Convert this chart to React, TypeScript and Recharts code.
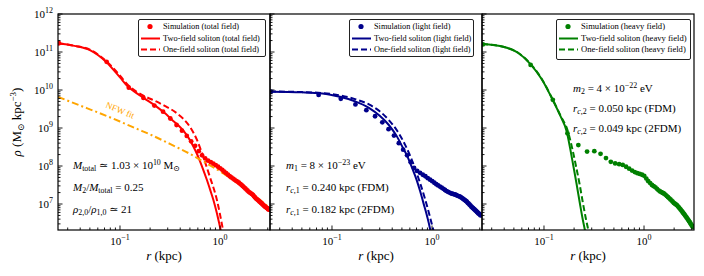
import React from "react";
import { ComposedChart, Line, Scatter, XAxis, YAxis } from "recharts";

const SERIF = '"Liberation Serif", "DejaVu Serif", serif';

// radial bins of the simulation (kpc)
const simRadius = [
  0.0245, 0.0735, 0.1225, 0.1715, 0.2205, 0.2695, 0.3185, 0.3675, 0.4165, 0.4655,
  0.5145, 0.5635, 0.6125, 0.6615, 0.7105, 0.7595, 0.8085, 0.8575, 0.9065, 0.9555,
  1.0045, 1.0535, 1.1025, 1.1515, 1.2005, 1.2495, 1.2985, 1.3475, 1.3965, 1.4455,
  1.4945, 1.5435, 1.5925, 1.6415, 1.6905, 1.7395, 1.7885, 1.8375, 1.8865, 1.9355,
  1.9845, 2.0335, 2.0825, 2.1315, 2.1805, 2.2295, 2.2785, 2.3275, 2.3765, 2.4255,
  2.4745, 2.5235, 2.5725, 2.6215, 2.6705, 2.7195, 2.7685, 2.8175, 2.8665, 2.9155,
  2.9645, 3.0135, 3.0625,
];

const simTotal = [
  1.7e11, 5.5e10, 1.15e10, 6.17e9, 3.89e9, 2.69e9, 1.78e9, 1.2e9, 8.51e8, 6.17e8,
  4.47e8, 3.39e8, 2.45e8, 1.91e8, 1.58e8, 1.38e8, 1.26e8, 1.15e8, 1.05e8, 9.55e7,
  8.71e7, 7.94e7, 7.08e7, 6.46e7, 5.89e7, 5.37e7, 5.01e7, 4.68e7, 4.37e7, 4.07e7,
  3.89e7, 3.63e7, 3.39e7, 3.16e7, 2.95e7, 2.75e7, 2.57e7, 2.4e7, 2.24e7, 2.09e7,
  2.0e7, 1.91e7, 1.82e7, 1.74e7, 1.62e7, 1.51e7, 1.41e7, 1.35e7, 1.29e7, 1.23e7,
  1.17e7, 1.12e7, 1.07e7, 1.02e7, 9.77e6, 9.33e6, 8.91e6, 8.51e6, 8.32e6, 7.94e6,
  7.76e6, 7.41e6, 7.08e6,
];

const simLight = [
  9.02e9, 7.41e9, 5.89e9, 4.17e9, 2.95e9, 2.04e9, 1.41e9, 9.33e8, 6.31e8, 3.98e8,
  2.69e8, 1.91e8, 1.26e8, 8.91e7, 7.41e7, 6.61e7, 5.89e7, 5.37e7, 4.79e7, 4.37e7,
  3.98e7, 3.63e7, 3.31e7, 3.09e7, 2.88e7, 2.69e7, 2.51e7, 2.34e7, 2.19e7, 2.09e7,
  2.0e7, 1.91e7, 1.86e7, 1.82e7, 1.78e7, 1.74e7, 1.66e7, 1.62e7, 1.58e7, 1.51e7,
  1.45e7, 1.38e7, 1.32e7, 1.26e7, 1.2e7, 1.15e7, 1.07e7, 1.02e7, 9.55e6, 9.12e6,
  8.51e6, 8.13e6, 7.76e6, 7.41e6, 7.08e6, 6.76e6, 6.46e6, 6.17e6, 5.89e6, 5.62e6,
  5.5e6, 5.25e6, 5.01e6,
];

const simHeavy = [
  1.58e11, 4.57e10, 5.5e9, 7.24e8, 3.55e8, 2.4e8, 2.45e8, 2.09e8, 1.62e8, 1.29e8,
  1.17e8, 1.12e8, 1.07e8, 9.55e7, 8.51e7, 7.59e7, 6.92e7, 6.46e7, 6.17e7, 5.89e7,
  5.5e7, 4.68e7, 3.98e7, 3.55e7, 3.16e7, 2.95e7, 2.75e7, 2.51e7, 2.29e7, 2.14e7,
  2.04e7, 1.95e7, 1.86e7, 1.74e7, 1.62e7, 1.51e7, 1.41e7, 1.32e7, 1.23e7, 1.15e7,
  1.07e7, 1.02e7, 9.77e6, 9.33e6, 8.71e6, 8.13e6, 7.59e6, 7.08e6, 6.61e6, 6.17e6,
  5.75e6, 5.37e6, 5.01e6, 4.68e6, 4.37e6, 4.07e6, 3.8e6, 3.55e6, 3.31e6, 3.09e6,
  2.88e6, 2.69e6, 2.51e6,
];

// soliton fits, total field
const twoTotalR = [0.024, 0.035, 0.05, 0.072, 0.1, 0.12, 0.15, 0.175, 0.23, 0.29, 0.33, 0.38, 0.43, 0.49, 0.54, 0.59, 0.63, 0.68, 0.74, 0.8, 0.86, 0.92, 0.98, 1.03];
const twoTotalRho = [1.7e11, 1.45e11, 1.12e11, 5.62e10, 2.14e10, 1.23e10, 7.94e9, 6.03e9, 3.72e9, 2.29e9, 1.66e9, 1.2e9, 8.51e8, 5.25e8, 3.31e8, 2.04e8, 1.35e8, 7.94e7, 4.27e7, 2.29e7, 1.26e7, 6.46e6, 3.16e6, 1.74e6];
const oneTotalR = [0.024, 0.035, 0.05, 0.072, 0.1, 0.12, 0.15, 0.175, 0.23, 0.29, 0.33, 0.37, 0.43, 0.5, 0.59, 0.68, 0.79, 0.93, 1.07, 1.1];
const oneTotalRho = [1.7e11, 1.45e11, 1.15e11, 5.89e10, 2.4e10, 1.35e10, 8.71e9, 6.92e9, 5.01e9, 3.63e9, 3.02e9, 2.45e9, 1.74e9, 1.07e9, 4.79e8, 1.74e8, 5.25e7, 1.29e7, 2.09e6, 1.41e6];
const nfwR = [0.024, 0.04, 0.06, 0.1, 0.15, 0.2, 0.3, 0.4, 0.5, 0.7, 1.0, 1.5, 2.0, 2.5, 3.16];
const nfwRho = [6.61e9, 3.89e9, 2.57e9, 1.48e9, 9.33e8, 6.76e8, 4.07e8, 2.82e8, 2.09e8, 1.26e8, 7.24e7, 3.55e7, 2.04e7, 1.29e7, 7.76e6];

// light field
const twoLightR = [0.024, 0.05, 0.08, 0.12, 0.17, 0.234, 0.3, 0.37, 0.44, 0.5, 0.57, 0.63, 0.7, 0.76, 0.82, 0.885, 0.93, 0.96, 1.0];
const twoLightRho = [9.02e9, 8.71e9, 8.13e9, 6.61e9, 5.01e9, 3.39e9, 2.09e9, 1.2e9, 6.31e8, 3.39e8, 1.74e8, 9.12e7, 4.37e7, 2.19e7, 1.07e7, 5.25e6, 3.09e6, 2.09e6, 1.32e6];
const oneLightR = [0.024, 0.05, 0.08, 0.12, 0.17, 0.234, 0.3, 0.37, 0.45, 0.54, 0.61, 0.68, 0.76, 0.85, 0.93, 1.0, 1.03, 1.07];
const oneLightRho = [9.12e9, 8.81e9, 8.32e9, 7.24e9, 5.75e9, 4.17e9, 2.75e9, 1.62e9, 8.32e8, 3.55e8, 1.74e8, 8.32e7, 3.55e7, 1.38e7, 5.89e6, 2.82e6, 2.09e6, 1.38e6];

// heavy field
const twoHeavyR = [0.024, 0.04, 0.055, 0.072, 0.095, 0.119, 0.145, 0.169, 0.183, 0.196, 0.212, 0.229, 0.243, 0.257, 0.27];
const twoHeavyRho = [1.62e11, 1.35e11, 9.55e10, 5.01e10, 1.91e10, 6.31e9, 2.14e9, 7.94e8, 2.82e8, 1.05e8, 3.31e7, 1.0e7, 4.17e6, 2.0e6, 1.0e6];
const oneHeavyR = [0.024, 0.04, 0.055, 0.072, 0.095, 0.119, 0.146, 0.174, 0.192, 0.208, 0.227, 0.246, 0.262, 0.278, 0.292];
const oneHeavyRho = [1.62e11, 1.35e11, 9.55e10, 5.13e10, 1.95e10, 6.46e9, 2.14e9, 7.94e8, 2.82e8, 1.05e8, 3.31e7, 1.0e7, 4.17e6, 2.0e6, 1.0e6];

const xTicks = [0.03, 0.04, 0.05, 0.06, 0.07, 0.08, 0.09, 0.1, 0.2, 0.3, 0.4, 0.5, 0.6, 0.7, 0.8, 0.9, 1, 2, 3];
const yTicks = [
  3e6, 4e6, 5e6, 6e6, 7e6, 8e6, 9e6,
  1e7, 2e7, 3e7, 4e7, 5e7, 6e7, 7e7, 8e7, 9e7,
  1e8, 2e8, 3e8, 4e8, 5e8, 6e8, 7e8, 8e8, 9e8,
  1e9, 2e9, 3e9, 4e9, 5e9, 6e9, 7e9, 8e9, 9e9,
  1e10, 2e10, 3e10, 4e10, 5e10, 6e10, 7e10, 8e10, 9e10,
  1e11, 2e11, 3e11, 4e11, 5e11, 6e11, 7e11, 8e11, 9e11,
  1e12,
];

const X_DOMAIN = [0.024, 3.16];
const Y_DOMAIN = [2.07e6, 1e12];

const RED = "#ff0000";
const BLUE = "#00008b";
const GREEN = "#008000";
const ORANGE = "#ffa500";

const pts = (r: number[], rho: number[]) => r.map((v, i) => ({ r: v, rho: rho[i] }));

const isMajor = (v: number) => Math.abs(Math.log10(v) - Math.round(Math.log10(v))) < 1e-9;
const expLabel = (v: number) => {
  const e = Math.round(Math.log10(v));
  return e < 0 ? `\u2212${-e}` : `${e}`;
};

function XTick(props: any) {
  const { x, y, payload } = props;
  const major = isMajor(payload.value);
  return (
    <g>
      <line x1={x} x2={x} y1={y} y2={y - (major ? 4.5 : 2.5)} stroke="#000" strokeWidth={0.9} />
      {major && (
        <text x={x} y={y + 15} textAnchor="middle" fontSize={11} fontFamily={SERIF} fill="#000">
          10<tspan dy={-5} fontSize={8}>{expLabel(payload.value)}</tspan>
        </text>
      )}
    </g>
  );
}

function YTick(props: any) {
  const { x, y, payload, showLabel } = props;
  const major = isMajor(payload.value);
  return (
    <g>
      <line x1={x} x2={x + (major ? 4.5 : 2.5)} y1={y} y2={y} stroke="#000" strokeWidth={0.9} />
      {major && showLabel && (
        <text x={x - 5} y={y + 4} textAnchor="end" fontSize={11} fontFamily={SERIF} fill="#000">
          10<tspan dy={-5} fontSize={8}>{expLabel(payload.value)}</tspan>
        </text>
      )}
    </g>
  );
}

interface PanelProps {
  left: number;
  color: string;
  sim: number[];
  two: { r: number; rho: number }[];
  one: { r: number; rho: number }[];
  showYLabels?: boolean;
  nfw?: { r: number; rho: number }[];
}

function Panel({ left, color, sim, two, one, showYLabels, nfw }: PanelProps) {
  return (
    <div style={{ position: "absolute", left: left - 58, top: 0 }}>
      <ComposedChart width={270} height={276} margin={{ top: 14, right: 0, bottom: 0, left: 0 }}>
        <XAxis
          dataKey="r"
          type="number"
          scale="log"
          domain={X_DOMAIN}
          allowDataOverflow
          ticks={xTicks}
          interval={0}
          tickSize={0}
          tickMargin={0}
          axisLine={false}
          tickLine={false}
          height={46}
          tick={(p: any) => <XTick {...p} />}
        />
        <YAxis
          dataKey="rho"
          type="number"
          scale="log"
          domain={Y_DOMAIN}
          allowDataOverflow
          ticks={yTicks}
          interval={0}
          tickSize={0}
          tickMargin={0}
          axisLine={false}
          tickLine={false}
          width={58}
          tick={(p: any) => <YTick {...p} showLabel={showYLabels} />}
        />
        <Scatter
          data={pts(simRadius, sim)}
          isAnimationActive={false}
          shape={(p: any) => <circle cx={p.cx} cy={p.cy} r={2.4} fill={color} />}
        />
        <Line data={two} dataKey="rho" type="monotone" stroke={color} strokeWidth={2} dot={false} activeDot={false} isAnimationActive={false} />
        <Line data={one} dataKey="rho" type="monotone" stroke={color} strokeWidth={2} strokeDasharray="6 3" dot={false} activeDot={false} isAnimationActive={false} />
        {nfw && (
          <Line data={nfw} dataKey="rho" type="monotone" stroke={ORANGE} strokeWidth={2} strokeDasharray="7 3 2 3" dot={false} activeDot={false} isAnimationActive={false} />
        )}
      </ComposedChart>
    </div>
  );
}

function LegendBox({ left, top, width, height, color, field, fontSize }: any) {
  const rows = [
    { kind: "dot", text: `Simulation (${field})` },
    { kind: "solid", text: `Two-field soliton (${field})` },
    { kind: "dash", text: `One-field soliton (${field})` },
  ];
  return (
    <div
      style={{
        position: "absolute",
        left,
        top,
        width,
        height,
        boxSizing: "border-box",
        border: "1px solid #222",
        borderRadius: 2,
        background: "#fff",
        paddingTop: 1,
        fontFamily: SERIF,
        fontSize,
        whiteSpace: "nowrap",
      }}
    >
      {rows.map((row) => (
        <div key={row.kind} style={{ height: 11.5, lineHeight: "11.5px", display: "flex", alignItems: "center" }}>
          <svg width={24} height={11} style={{ flex: "none" }}>
            {row.kind === "dot" && <circle cx={11} cy={5.5} r={2.6} fill={color} />}
            {row.kind === "solid" && <line x1={2} x2={21} y1={5.5} y2={5.5} stroke={color} strokeWidth={2} />}
            {row.kind === "dash" && <line x1={2} x2={21} y1={5.5} y2={5.5} stroke={color} strokeWidth={2} strokeDasharray="6 3" />}
          </svg>
          <span style={{ color: "#000" }}>{row.text}</span>
        </div>
      ))}
    </div>
  );
}

const Sub = ({ children }: any) => (
  <span style={{ fontSize: "0.72em", position: "relative", top: "0.28em" }}>{children}</span>
);
const Sup = ({ children }: any) => (
  <span style={{ fontSize: "0.72em", position: "relative", top: "-0.45em" }}>{children}</span>
);

function Notes({ left, top, lineHeight, rows }: any) {
  return (
    <div style={{ position: "absolute", left, top, fontFamily: SERIF, fontSize: 11, lineHeight: `${lineHeight}px`, whiteSpace: "nowrap", color: "#000" }}>
      {rows.map((r: any, i: number) => (
        <div key={i}>{r}</div>
      ))}
    </div>
  );
}

const panelLefts = [58, 270, 482];

export default function App() {
  return (
    <div style={{ position: "absolute", left: 0, top: 0, width: 704, height: 276, background: "#fff", overflow: "hidden" }}>
      <Panel left={58} color={RED} sim={simTotal} two={pts(twoTotalR, twoTotalRho)} one={pts(oneTotalR, oneTotalRho)} nfw={pts(nfwR, nfwRho)} showYLabels />
      <Panel left={270} color={BLUE} sim={simLight} two={pts(twoLightR, twoLightRho)} one={pts(oneLightR, oneLightRho)} />
      <Panel left={482} color={GREEN} sim={simHeavy} two={pts(twoHeavyR, twoHeavyRho)} one={pts(oneHeavyR, oneHeavyRho)} />

      <svg width={704} height={276} style={{ position: "absolute", left: 0, top: 0, pointerEvents: "none" }}>
        {panelLefts.map((l) => (
          <rect key={l} x={l} y={14} width={212} height={216} fill="none" stroke="#000" strokeWidth={1.2} />
        ))}
        <text transform="translate(21,122) rotate(-90)" textAnchor="middle" fontSize={13} fontFamily={SERIF} fill="#000">
          <tspan fontStyle="italic">ρ</tspan> (M<tspan dy={3} fontSize={9}>⊙</tspan>
          <tspan dy={-3}> kpc</tspan>
          <tspan dy={-5} fontSize={9}>−3</tspan>
          <tspan dy={5}>)</tspan>
        </text>
        {panelLefts.map((l) => (
          <text key={l} x={l + 106} y={260} textAnchor="middle" fontSize={13} fontFamily={SERIF} fill="#000">
            <tspan fontStyle="italic">r</tspan> (kpc)
          </text>
        ))}
        <text transform="translate(119,113) rotate(22)" textAnchor="middle" fontSize={9} fontFamily={SERIF} fill={ORANGE}>
          NFW fit
        </text>
      </svg>

      <LegendBox left={138} top={19} width={128} height={38} color={RED} field="total field" fontSize={8.3} />
      <LegendBox left={349} top={19} width={125} height={38} color={BLUE} field="light field" fontSize={8.3} />
      <LegendBox left={556} top={19} width={135} height={41} color={GREEN} field="heavy field" fontSize={8.6} />

      <Notes
        left={73}
        top={155}
        lineHeight={20}
        rows={[
          <>
            <i>M</i><Sub>total</Sub> ≃ 1.03 × 10<Sup>10</Sup> M<Sub>⊙</Sub>
          </>,
          <>
            <i>M</i><Sub>2</Sub>/<i>M</i><Sub>total</Sub> = 0.25
          </>,
          <>
            <i>ρ</i><Sub>2,0</Sub>/<i>ρ</i><Sub>1,0</Sub> ≃ 21
          </>,
        ]}
      />
      <Notes
        left={286}
        top={155}
        lineHeight={20}
        rows={[
          <>
            <i>m</i><Sub>1</Sub> = 8 × 10<Sup>−23</Sup> eV
          </>,
          <>
            <i>r</i><Sub><i>c</i>,1</Sub> = 0.240 kpc (FDM)
          </>,
          <>
            <i>r</i><Sub><i>c</i>,1</Sub> = 0.182 kpc (2FDM)
          </>,
        ]}
      />
      <Notes
        left={573}
        top={79}
        lineHeight={19}
        rows={[
          <>
            <i>m</i><Sub>2</Sub> = 4 × 10<Sup>−22</Sup> eV
          </>,
          <>
            <i>r</i><Sub><i>c</i>,2</Sub> = 0.050 kpc (FDM)
          </>,
          <>
            <i>r</i><Sub><i>c</i>,2</Sub> = 0.049 kpc (2FDM)
          </>,
        ]}
      />
    </div>
  );
}
